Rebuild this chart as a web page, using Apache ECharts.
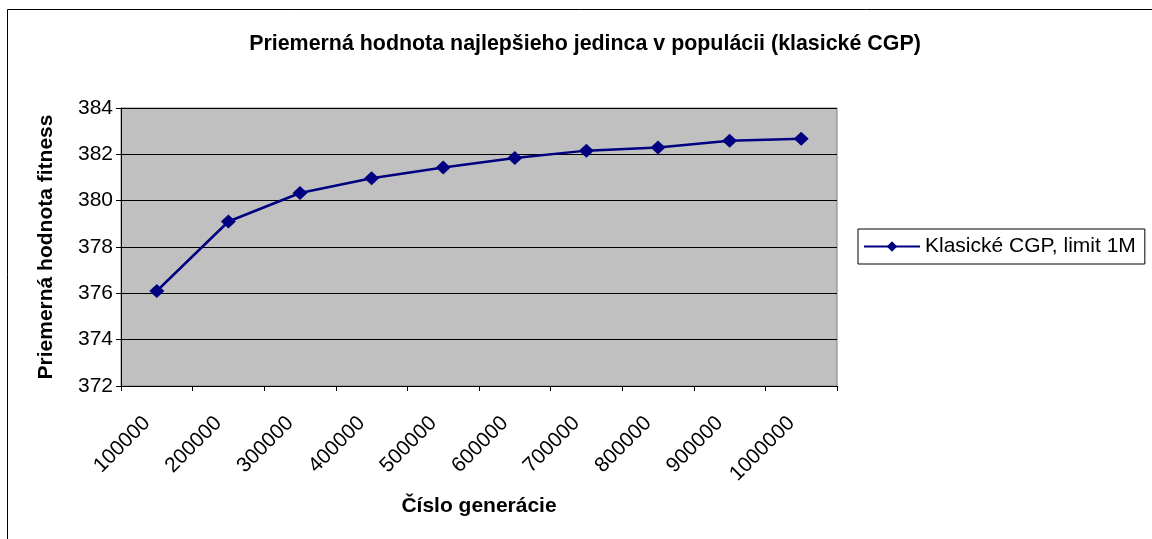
<!DOCTYPE html>
<html>
<head>
<meta charset="utf-8">
<style>
  html, body { margin: 0; padding: 0; background: #ffffff; }
  #chart { width: 1152px; height: 539px; }
</style>
<script src="https://cdn.jsdelivr.net/npm/echarts@6/dist/echarts.min.js"></script>
</head>
<body>
<div id="chart"></div>
<script>
// Generation numbers (category axis)
const generations = ['100000', '200000', '300000', '400000', '500000',
                     '600000', '700000', '800000', '900000', '1000000'];
// Average fitness of the best individual
const bestFitness = [376.10, 379.10, 380.33, 380.97, 381.43,
                     381.84, 382.16, 382.30, 382.59, 382.67];
const yTicks = { min: 372, max: 384, interval: 2 };

const FONT = 'Liberation Sans, Arial, sans-serif';
const FS = 21;

const chart = echarts.init(document.getElementById('chart'), null, { renderer: 'canvas' });

chart.setOption({
  animation: false,
  backgroundColor: '#ffffff',
  title: {
    text: 'Priemerná hodnota najlepšieho jedinca v populácii (klasické CGP)',
    left: 580,
    textAlign: 'center',
    top: 29,
    textStyle: { fontFamily: FONT, fontSize: 21.4, fontWeight: 'bold', color: '#000' }
  },
  graphic: [{
    type: 'rect',
    shape: { x: 7.5, y: 9.5, width: 1160, height: 540 },
    style: { fill: 'none', stroke: '#000', lineWidth: 1 },
    silent: true
  }],
  legend: {
    left: 858,
    top: 229,
    orient: 'vertical',
    padding: [7, 9, 7, 5],
    itemWidth: 56,
    itemHeight: 13,
    itemGap: 0,
    borderColor: '#000',
    borderWidth: 1,
    backgroundColor: '#fff',
    textStyle: { fontFamily: FONT, fontSize: FS, color: '#000' },
    data: ['Klasické CGP, limit 1M']
  },
  grid: {
    left: 121,
    right: 1152 - 837,
    top: 108,
    bottom: 539 - 386,
    show: true,
    backgroundColor: '#c0c0c0',
    borderColor: '#808080',
    borderWidth: 1
  },
  xAxis: {
    type: 'category',
    data: generations,
    boundaryGap: true,
    name: 'Číslo generácie',
    nameLocation: 'middle',
    nameGap: 110,
    nameTextStyle: { fontFamily: FONT, fontSize: FS, fontWeight: 'bold', color: '#000' },
    axisLine: { lineStyle: { color: '#000', width: 1 } },
    axisTick: { show: true, alignWithLabel: false, length: 5, lineStyle: { color: '#000' } },
    axisLabel: {
      rotate: 45,
      margin: 24,
      padding: [0, 14, 0, 0],
      interval: 0,
      fontFamily: FONT, fontSize: FS, color: '#000'
    },
    splitLine: { show: false }
  },
  yAxis: {
    type: 'value',
    min: yTicks.min,
    max: yTicks.max,
    interval: yTicks.interval,
    name: 'Priemerná hodnota fitness',
    nameLocation: 'middle',
    nameGap: 64,
    nameTextStyle: { fontFamily: FONT, fontSize: FS, fontWeight: 'bold', color: '#000' },
    axisLine: { show: true, lineStyle: { color: '#000', width: 1 } },
    axisTick: { show: true, length: 5, lineStyle: { color: '#000' } },
    axisLabel: { margin: 8, fontFamily: FONT, fontSize: FS, color: '#000' },
    splitLine: { show: true, lineStyle: { color: '#000', width: 1 } }
  },
  series: [{
    name: 'Klasické CGP, limit 1M',
    type: 'line',
    data: bestFitness,
    color: '#000080',
    lineStyle: { color: '#000080', width: 2.5 },
    itemStyle: { color: '#000080' },
    symbol: 'diamond',
    symbolSize: [15, 14],
    showAllSymbol: true
  }]
});
</script>
</body>
</html>
